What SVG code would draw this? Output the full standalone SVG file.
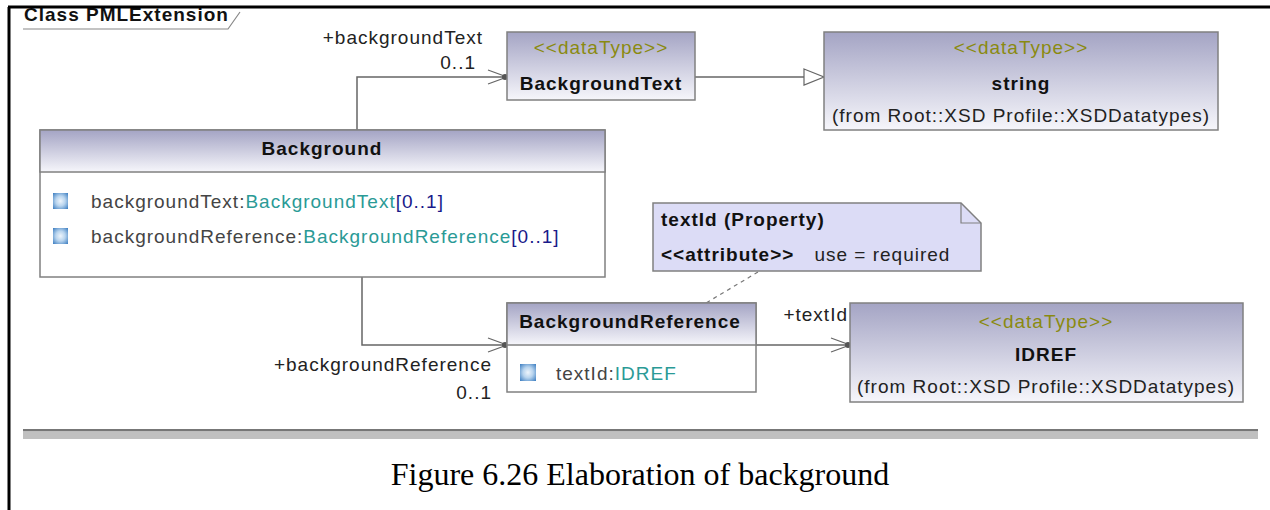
<svg xmlns="http://www.w3.org/2000/svg" width="1270" height="510" viewBox="0 0 1270 510">
<defs>
<linearGradient id="hdr" x1="0" y1="0" x2="0" y2="1">
<stop offset="0" stop-color="#a4a4c4"/>
<stop offset="1" stop-color="#f6f6fb"/>
</linearGradient>
<radialGradient id="ico" cx="0.5" cy="0.5" r="0.7">
<stop offset="0" stop-color="#eef5fc"/>
<stop offset="0.45" stop-color="#b8d4ee"/>
<stop offset="1" stop-color="#3a7cc0"/>
</radialGradient>
<clipPath id="tabclip"><rect x="0" y="8" width="300" height="30"/></clipPath>
<marker id="open" markerWidth="22" markerHeight="16" refX="20" refY="8" orient="auto" markerUnits="userSpaceOnUse">
<path d="M1,1 L20,8 L1,15" fill="none" stroke="#666" stroke-width="1.2"/>
<circle cx="18" cy="8" r="3" fill="#555"/>
</marker>
<marker id="gen" markerWidth="24" markerHeight="20" refX="22" refY="10" orient="auto" markerUnits="userSpaceOnUse">
<path d="M2,2 L22,10 L2,18 Z" fill="#fff" stroke="#666" stroke-width="1.2"/>
</marker>
</defs>
<style>
.box{stroke:#808080;stroke-width:1.5}
.t{font-family:"Liberation Sans",Arial,sans-serif;font-size:19px;letter-spacing:1px;fill:#222}
.b{font-weight:bold;fill:#111}
.st{fill:#8a8a10}
.ty{fill:#2a9a96}
.mu{fill:#1a1a8a}
.at{fill:#444}
.ln{stroke:#666;stroke-width:1.5;fill:none}
</style>
<rect x="0" y="0" width="1270" height="510" fill="#fff"/>
<g id="frame">
<text x="24" y="21" class="t b" font-size="20" letter-spacing="0.8" clip-path="url(#tabclip)">Class PMLExtension</text>
<line x1="8" y1="7" x2="1270" y2="7" stroke="#000" stroke-width="3"/>
<line x1="9" y1="7" x2="9" y2="510" stroke="#000" stroke-width="3"/>
<path d="M23,29 L228,29 L240,12" fill="none" stroke="#888" stroke-width="1.2"/>
<rect x="23" y="429" width="1235" height="2.5" fill="#777"/>
<rect x="23" y="431.5" width="1235" height="7.5" fill="#c0c0c0"/>
<text x="640" y="485" text-anchor="middle" font-family="Liberation Serif,'Times New Roman',serif" font-size="32" fill="#000">Figure 6.26 Elaboration of background</text>
</g>
<g id="connectors">
<path class="ln" d="M357,130 L357,77 L507,77" marker-end="url(#open)"/>
<path class="ln" d="M695,77 L824,77" marker-end="url(#gen)"/>
<path class="ln" d="M362,277 L362,345 L507,345" marker-end="url(#open)"/>
<path class="ln" d="M756,345 L850,345" marker-end="url(#open)"/>
<path d="M758,272 L706,303" stroke="#777" stroke-width="1.2" stroke-dasharray="4,4" fill="none"/>
<text x="483" y="44" text-anchor="end" class="t">+backgroundText</text>
<text x="476" y="69" text-anchor="end" class="t">0..1</text>
<text x="492" y="371" text-anchor="end" class="t">+backgroundReference</text>
<text x="492" y="399" text-anchor="end" class="t">0..1</text>
<text x="848" y="321" text-anchor="end" class="t">+textId</text>
</g>
<g id="BackgroundText">
<rect x="507" y="32" width="188" height="68" fill="url(#hdr)" class="box"/>
<text x="601" y="54" text-anchor="middle" class="t st">&lt;&lt;dataType&gt;&gt;</text>
<text x="601" y="90" text-anchor="middle" class="t b">BackgroundText</text>
</g>
<g id="string">
<rect x="824" y="32" width="394" height="98" fill="url(#hdr)" class="box"/>
<text x="1021" y="54" text-anchor="middle" class="t st">&lt;&lt;dataType&gt;&gt;</text>
<text x="1021" y="90" text-anchor="middle" class="t b">string</text>
<text x="1021" y="122" text-anchor="middle" class="t">(from Root::XSD Profile::XSDDatatypes)</text>
</g>
<g id="Background">
<rect x="40" y="130" width="565" height="147" fill="#fff" class="box"/>
<rect x="40" y="130" width="565" height="42" fill="url(#hdr)" class="box"/>
<text x="322" y="155" text-anchor="middle" class="t b">Background</text>
<rect x="53" y="193" width="15" height="16" fill="url(#ico)"/>
<text x="91" y="208" class="t"><tspan class="at">backgroundText:</tspan><tspan class="ty">BackgroundText</tspan><tspan class="mu">[0..1]</tspan></text>
<rect x="53" y="228" width="15" height="16" fill="url(#ico)"/>
<text x="91" y="243" class="t"><tspan class="at">backgroundReference:</tspan><tspan class="ty">BackgroundReference</tspan><tspan class="mu">[0..1]</tspan></text>
</g>
<g id="note">
<path d="M653,203 L961,203 L981,223 L981,271 L653,271 Z" fill="#dcdcf6" stroke="#808080" stroke-width="1.5"/>
<path d="M961,203 L961,223 L981,223" fill="none" stroke="#808080" stroke-width="1.2"/>
<text x="661" y="226" class="t b">textId (Property)</text>
<text x="661" y="261" class="t"><tspan class="b">&lt;&lt;attribute&gt;&gt;</tspan><tspan dx="20">use = required</tspan></text>
</g>
<g id="BackgroundReference">
<rect x="507" y="303" width="249" height="89" fill="#fff" class="box"/>
<rect x="507" y="303" width="249" height="42" fill="url(#hdr)" class="box"/>
<text x="630" y="328" text-anchor="middle" class="t b" letter-spacing="1.4">BackgroundReference</text>
<rect x="520" y="364" width="16" height="17" fill="url(#ico)"/>
<text x="556" y="380" class="t"><tspan class="at">textId:</tspan><tspan class="ty">IDREF</tspan></text>
</g>
<g id="IDREF">
<rect x="850" y="303" width="393" height="99" fill="url(#hdr)" class="box"/>
<text x="1046" y="328" text-anchor="middle" class="t st">&lt;&lt;dataType&gt;&gt;</text>
<text x="1046" y="361" text-anchor="middle" class="t b">IDREF</text>
<text x="1046" y="393" text-anchor="middle" class="t">(from Root::XSD Profile::XSDDatatypes)</text>
</g>
</svg>
